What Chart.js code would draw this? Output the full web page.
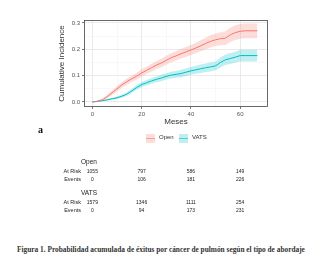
<!DOCTYPE html>
<html><head><meta charset="utf-8">
<script src="https://cdn.jsdelivr.net/npm/chart.js@4"></script>
<style>
html,body{margin:0;padding:0;background:#fff;width:327px;height:273px;overflow:hidden;position:relative;font-family:"Liberation Sans",Arial,sans-serif;}
#wrap{position:absolute;left:0;top:0;width:327px;height:130px;}
.t{position:absolute;white-space:nowrap;color:#222;}
</style></head><body>
<div id="wrap"><canvas id="c" width="327" height="130"></canvas></div>
<div id="overlay"></div>
<script>
const months = [0,2,4,6,8,10,12,14,16,18,20,22,24,26,28,30,32,34,36,38,40,42,44,46,48,50,52,54,56,58,60,62,64,67];
const openCI = [0,0.003,0.008,0.02,0.035,0.05,0.065,0.077,0.088,0.098,0.11,0.12,0.13,0.14,0.148,0.158,0.168,0.175,0.183,0.19,0.197,0.205,0.213,0.222,0.23,0.236,0.24,0.242,0.255,0.263,0.268,0.27,0.27,0.27];
const openLow = [0,0.001,0.004,0.013,0.026,0.04,0.054,0.065,0.076,0.085,0.096,0.106,0.115,0.125,0.132,0.141,0.151,0.157,0.165,0.171,0.178,0.185,0.192,0.2,0.207,0.212,0.215,0.216,0.228,0.235,0.24,0.242,0.242,0.242];
const openHigh = [0,0.005,0.012,0.027,0.044,0.06,0.076,0.089,0.1,0.111,0.124,0.134,0.145,0.155,0.164,0.175,0.185,0.193,0.201,0.209,0.216,0.225,0.234,0.244,0.253,0.26,0.265,0.268,0.282,0.291,0.296,0.298,0.298,0.298];
const vatsCI = [0,0.002,0.005,0.008,0.012,0.016,0.022,0.03,0.042,0.055,0.066,0.073,0.08,0.086,0.091,0.097,0.102,0.105,0.108,0.113,0.118,0.122,0.126,0.13,0.133,0.137,0.15,0.16,0.165,0.17,0.176,0.176,0.176,0.176];
const vatsLow = [0,0.001,0.003,0.005,0.008,0.011,0.016,0.023,0.034,0.046,0.056,0.063,0.069,0.075,0.079,0.085,0.089,0.092,0.094,0.099,0.103,0.107,0.11,0.114,0.116,0.12,0.131,0.14,0.144,0.149,0.154,0.154,0.154,0.154];
const vatsHigh = [0,0.003,0.007,0.011,0.016,0.021,0.028,0.037,0.05,0.064,0.076,0.083,0.091,0.097,0.103,0.109,0.115,0.118,0.122,0.127,0.133,0.137,0.142,0.146,0.15,0.154,0.169,0.18,0.186,0.191,0.198,0.198,0.198,0.198];
const riskTimes = [0,20,40,60];
const openAtRisk = [1055,797,586,149];
const openEvents = [0,106,181,226];
const vatsAtRisk = [1579,1346,1111,254];
const vatsEvents = [0,94,173,231];
const groups = ["Open","VATS"];

const RED = '#F8766D', CYAN = '#00BFC4';
const REDF = 'rgba(248,118,109,0.25)', CYANF = 'rgba(0,191,196,0.25)';
const pts = (ys) => months.map((m,i)=>({x:m,y:ys[i]}));

const border = {
  id:'panelBorder',
  afterDraw(chart){
    const a = chart.chartArea, ctx = chart.ctx;
    ctx.save(); ctx.strokeStyle='#444'; ctx.lineWidth=0.8;
    ctx.strokeRect(a.left+0.5,a.top+0.5,a.right-a.left-1,a.bottom-a.top-1);
    ctx.restore();
  }
};

const chart = new Chart(document.getElementById('c'), {
  type:'line',
  data:{datasets:[
    {label:'openLow',data:pts(openLow),borderWidth:0,pointRadius:0,fill:false},
    {label:'openHigh',data:pts(openHigh),borderWidth:0,pointRadius:0,fill:'-1',backgroundColor:REDF},
    {label:'vatsLow',data:pts(vatsLow),borderWidth:0,pointRadius:0,fill:false},
    {label:'vatsHigh',data:pts(vatsHigh),borderWidth:0,pointRadius:0,fill:'-1',backgroundColor:CYANF},
    {label:groups[0],data:pts(openCI),borderColor:RED,borderWidth:1,pointRadius:0,fill:false},
    {label:groups[1],data:pts(vatsCI),borderColor:CYAN,borderWidth:1,pointRadius:0,fill:false}
  ]},
  options:{
    responsive:false,animation:false,
    layout:{padding:{left:57,right:59,top:20,bottom:3}},
    plugins:{legend:{display:false},tooltip:{enabled:false}},
    scales:{
      x:{type:'linear',min:-3.4,max:71.3,
        ticks:{stepSize:10,includeBounds:false,autoSkip:false,maxRotation:0,padding:2,color:'#555',font:{size:6,family:'Liberation Sans'},
          callback:(v)=> (v%20===0? String(v):'')},
        grid:{color:(c)=> (!c.tick || c.tick.value>=70 ? 'rgba(0,0,0,0)' : (c.tick.value%20===0 ? '#e4e4e4':'#f0f0f0')),lineWidth:(c)=>(c.tick && c.tick.value%20===0?0.8:0.5),drawTicks:true,tickLength:2,tickColor:(c)=>(c.tick && c.tick.value%20===0?'#555':'rgba(0,0,0,0)')},
        border:{display:false},
        title:{display:true,text:'Meses',color:'#333',font:{size:8,family:'Liberation Sans'},padding:{top:0,bottom:0}},
        afterFit:(s)=>{s.height=20;}
      },
      y:{min:-0.019,max:0.311,
        ticks:{stepSize:0.05,includeBounds:false,autoSkip:false,padding:2,color:'#555',font:{size:6,family:'Liberation Sans'},
          callback:(v)=>{const r=Math.round(v*100); return r%10===0? (r/100).toFixed(1):'';}},
        grid:{color:(c)=>{const r=Math.round(c.tick.value*100);return r%10===0?'#e4e4e4':'#f0f0f0';},lineWidth:(c)=>{const r=Math.round(c.tick.value*100);return r%10===0?0.8:0.5;},tickLength:2,tickColor:(c)=>{const r=Math.round(c.tick.value*100);return r%10===0?'#555':'rgba(0,0,0,0)';}},
        border:{display:false},
        title:{display:true,text:'Cumulative Incidence',color:'#333',font:{size:8,family:'Liberation Sans'},padding:{top:0,bottom:1}},
        afterFit:(s)=>{s.width=27;}
      }
    }
  },
  plugins:[border]
});

const ov = document.getElementById('overlay');
function txt(s, x, y, style, align){
  const d=document.createElement('div'); d.className='t'; d.textContent=s;
  d.style.cssText += style + ';left:'+x+'px;top:'+y+'px;';
  if(align==='c') d.style.transform='translate(-50%,0)';
  if(align==='r') d.style.transform='translate(-100%,0)';
  ov.appendChild(d); return d;
}
const xs = chart.scales.x;
txt('a',38,124,'font-family:"Liberation Serif",serif;font-weight:bold;font-size:10px;color:#111');
function swatch(x,y,fill,line){
  const d=document.createElement('div');
  d.style.cssText='position:absolute;left:'+x+'px;top:'+y+'px;width:9px;height:9px;background:'+fill+';';
  const l=document.createElement('div');
  l.style.cssText='position:absolute;left:0;top:4px;width:9px;height:1px;background:'+line+';opacity:0.6';
  d.appendChild(l); ov.appendChild(d);
}
swatch(146,134,REDF,RED); txt(groups[0],159,134,'font-size:6px;color:#333');
swatch(179,134,CYANF,CYAN); txt(groups[1],192,134,'font-size:6px;color:#333');
const tbl=[[groups[0],openAtRisk,openEvents,158],[groups[1],vatsAtRisk,vatsEvents,189]];
tbl.forEach(([g,ar,ev,y0])=>{
  txt(g,81,y0,'font-size:6.5px;color:#222');
  txt('At Risk',81,y0+10,'font-size:5.5px;color:#222','r');
  txt('Events',81,y0+18,'font-size:5.5px;color:#222','r');
  riskTimes.forEach((t,i)=>{
    const px=xs.getPixelForValue(t);
    txt(String(ar[i]),px,y0+10,'font-size:5px;color:#222','c');
    txt(String(ev[i]),px,y0+18,'font-size:5px;color:#222','c');
  });
});
txt('Figura 1. Probabilidad acumulada de éxitus por cáncer de pulmón según el tipo de abordaje',17,245,'font-family:"Liberation Serif",serif;font-weight:bold;font-size:7.35px;color:#333');
</script>
</body></html>
